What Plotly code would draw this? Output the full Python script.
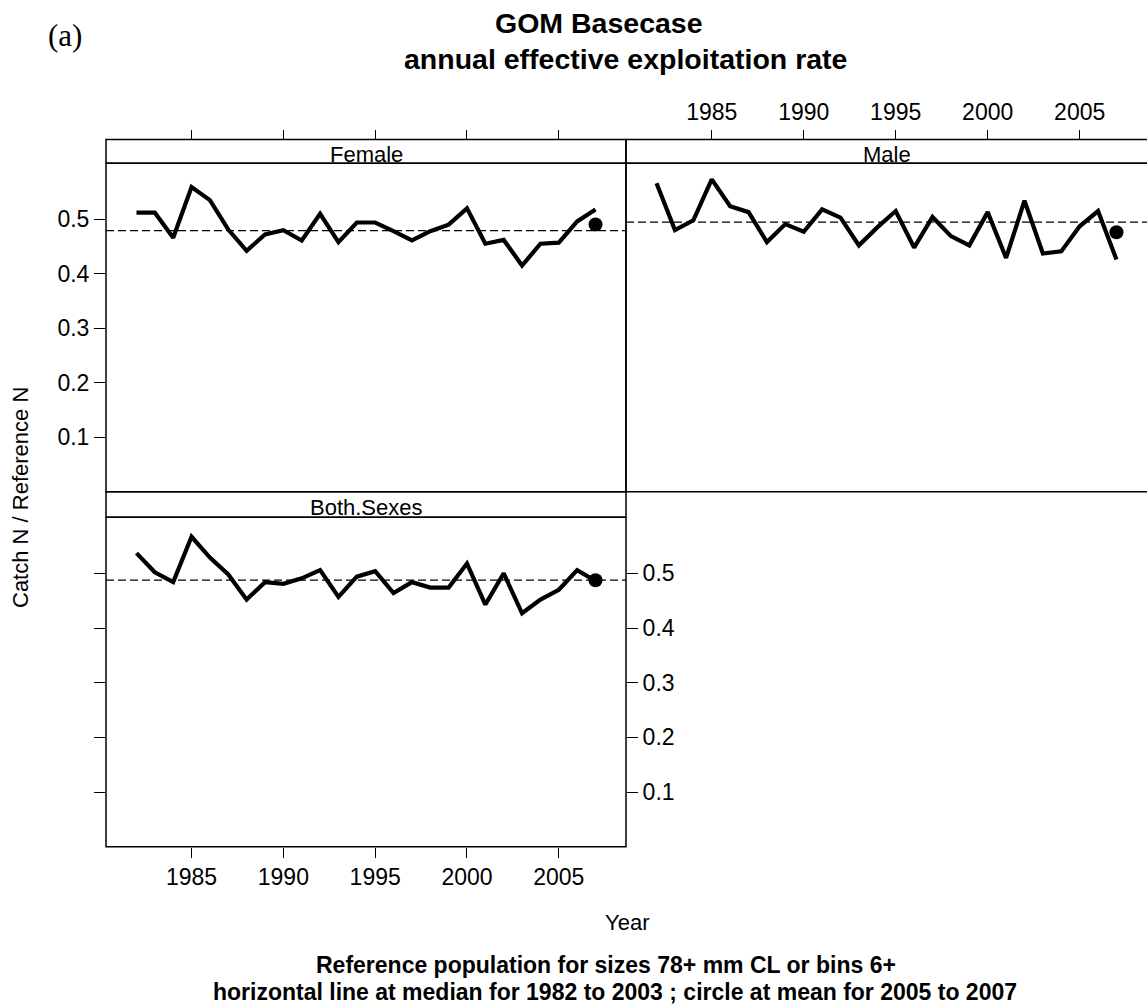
import numpy as np
import plotly.graph_objects as go

# ---- data -------------------------------------------------------------
years = list(range(1982, 2008))

female = [0.512, 0.512, 0.466, 0.559, 0.535, 0.481, 0.442, 0.472, 0.480, 0.461,
          0.510, 0.458, 0.494, 0.494, 0.478, 0.461, 0.478, 0.490, 0.520, 0.455,
          0.462, 0.415, 0.455, 0.457, 0.496, 0.518]

male = [0.566, 0.480, 0.498, 0.573, 0.524, 0.513, 0.458, 0.491, 0.477, 0.518,
        0.503, 0.452, 0.485, 0.515, 0.448, 0.504, 0.469, 0.452, 0.513, 0.429,
        0.534, 0.437, 0.441, 0.487, 0.515, 0.426]

both_sexes = [0.537, 0.502, 0.484, 0.567, 0.529, 0.498, 0.452, 0.484, 0.481, 0.491,
              0.506, 0.457, 0.494, 0.504, 0.464, 0.484, 0.474, 0.474, 0.518, 0.443,
              0.500, 0.427, 0.452, 0.470, 0.506, 0.486]

panel_names = ["Female", "Male", "Both.Sexes"]
x_ticks = [1985, 1990, 1995, 2000, 2005]
y_ticks = [0.1, 0.2, 0.3, 0.4, 0.5]
y_tick_text = ["0.1", "0.2", "0.3", "0.4", "0.5"]

median_years = (1982, 2003)
mean_years = (2005, 2007)

# ---- page geometry (pixels) --------------------------------------------
W, H = 1147, 1007
FONT = "Liberation Sans, Arial, Helvetica, sans-serif"


def px(p):
    return p / W


def py(p):
    return 1 - p / H


LEFT, MID, RIGHT = 106, 626, 1147
STRIP_TOP1, PANEL_TOP1, PANEL_BOT1 = 139.5, 163.3, 491.7
PANEL_TOP2, PANEL_BOT2 = 517.3, 846.7

X_RANGE = [1980.34, 2008.66]
Y_RANGE = [0, 0.6026]

series = {"Female": female, "Male": male, "Both.Sexes": both_sexes}
axes_ids = {"Female": ("x", "y"), "Male": ("x2", "y2"), "Both.Sexes": ("x3", "y3")}

fig = go.Figure()
shapes = []

for name in panel_names:
    vals = np.array(series[name])
    yrs = np.array(years)
    xa, ya = axes_ids[name]
    med = float(np.median(vals[(yrs >= median_years[0]) & (yrs <= median_years[1])]))
    avg = float(np.mean(vals[(yrs >= mean_years[0]) & (yrs <= mean_years[1])]))

    fig.add_trace(go.Scatter(
        x=years, y=series[name], mode="lines", xaxis=xa, yaxis=ya,
        line=dict(color="black", width=4.2), showlegend=False, hoverinfo="skip"))
    fig.add_trace(go.Scatter(
        x=[mean_years[1]], y=[avg], mode="markers", xaxis=xa, yaxis=ya,
        marker=dict(color="black", size=14, symbol="circle"),
        showlegend=False, hoverinfo="skip"))
    # horizontal reference line at the median
    shapes.append(dict(type="line", xref=f"{xa} domain", yref=ya,
                       x0=0, x1=1, y0=med, y1=med,
                       line=dict(color="black", width=1.3, dash="8px,4px")))

# panel frames and strips
frame = dict(color="black", width=1.5)
panels = [
    (LEFT, MID, PANEL_TOP1, PANEL_BOT1, STRIP_TOP1),
    (MID, RIGHT + 10, PANEL_TOP1, PANEL_BOT1, STRIP_TOP1),
    (LEFT, MID, PANEL_TOP2, PANEL_BOT2, PANEL_BOT1),
]
for (l, r, t, b, st) in panels:
    shapes.append(dict(type="rect", xref="paper", yref="paper",
                       x0=px(l), x1=px(r), y0=py(b), y1=py(t), line=frame,
                       fillcolor="rgba(0,0,0,0)", layer="above"))
    shapes.append(dict(type="rect", xref="paper", yref="paper",
                       x0=px(l), x1=px(r), y0=py(t), y1=py(st), line=frame,
                       fillcolor="rgba(0,0,0,0)", layer="above"))

annotations = []
strip_centres = [((LEFT + MID) / 2, (STRIP_TOP1 + PANEL_TOP1) / 2 + 3),
                 ((MID + RIGHT) / 2, (STRIP_TOP1 + PANEL_TOP1) / 2 + 3),
                 ((LEFT + MID) / 2, (PANEL_BOT1 + PANEL_TOP2) / 2 + 3)]
for name, (cx, cy) in zip(panel_names, strip_centres):
    annotations.append(dict(text=name, x=px(cx), y=py(cy), xref="paper", yref="paper",
                            showarrow=False, xanchor="center", yanchor="middle",
                            font=dict(family=FONT, size=22, color="black")))

texts = [
    ("<b>GOM Basecase</b>", 599, 23, 28.5, FONT),
    ("<b>annual effective exploitation rate</b>", 625, 59, 28.5, FONT),
    ("Year", 627, 922, 22, FONT),
    ("<b>Reference population for sizes 78+ mm CL or bins 6+</b>", 606, 965, 23, FONT),
    ("<b>horizontal line at median for 1982 to 2003 ; circle at mean for 2005 to 2007</b>",
     615, 992, 23, FONT),
    ("(a)", 65, 36, 31, "Liberation Serif, Times New Roman, serif"),
]
for t, cx, cy, size, fam in texts:
    annotations.append(dict(text=t, x=px(cx), y=py(cy), xref="paper", yref="paper",
                            showarrow=False, xanchor="center", yanchor="middle",
                            font=dict(family=fam, size=size, color="black")))
annotations.append(dict(text="Catch N / Reference N", x=px(21), y=py(498),
                        xref="paper", yref="paper", showarrow=False, textangle=-90,
                        xanchor="center", yanchor="middle",
                        font=dict(family=FONT, size=22, color="black")))

tickfont = dict(family=FONT, size=23, color="black")
common_x = dict(range=X_RANGE, tickvals=x_ticks, ticks="outside", ticklen=10,
                tickwidth=1.2, tickcolor="black", showgrid=False, zeroline=False,
                showline=False, tickfont=tickfont, fixedrange=True)
common_y = dict(range=Y_RANGE, tickvals=y_ticks, ticktext=y_tick_text, showgrid=False,
                zeroline=False, tickfont=tickfont, tickcolor="black", tickwidth=1.2,
                ticklen=11, fixedrange=True)

fig.update_layout(
    width=W, height=H,
    margin=dict(l=0, r=0, t=0, b=0),
    paper_bgcolor="white", plot_bgcolor="white",
    showlegend=False,
    xaxis=dict(common_x, domain=[px(LEFT), px(MID)], anchor="free",
               position=py(STRIP_TOP1), side="top", showticklabels=False),
    yaxis=dict(common_y, domain=[py(PANEL_BOT1), py(PANEL_TOP1)], anchor="x",
               side="left", ticks="outside", showline=False),
    xaxis2=dict(common_x, domain=[px(MID), 1.0], anchor="free",
                position=py(STRIP_TOP1), side="top", showticklabels=True),
    yaxis2=dict(common_y, domain=[py(PANEL_BOT1), py(PANEL_TOP1)], anchor="x2",
                ticks="", showticklabels=False, showline=False),
    xaxis3=dict(common_x, domain=[px(LEFT), px(MID)], anchor="y3", side="bottom",
                showticklabels=True),
    yaxis3=dict(common_y, domain=[py(PANEL_BOT2), py(PANEL_TOP2)], anchor="x3",
                side="right", ticks="outside", mirror="ticks", showline=False),
    shapes=shapes,
    annotations=annotations,
)

fig.write_html("out.html")
